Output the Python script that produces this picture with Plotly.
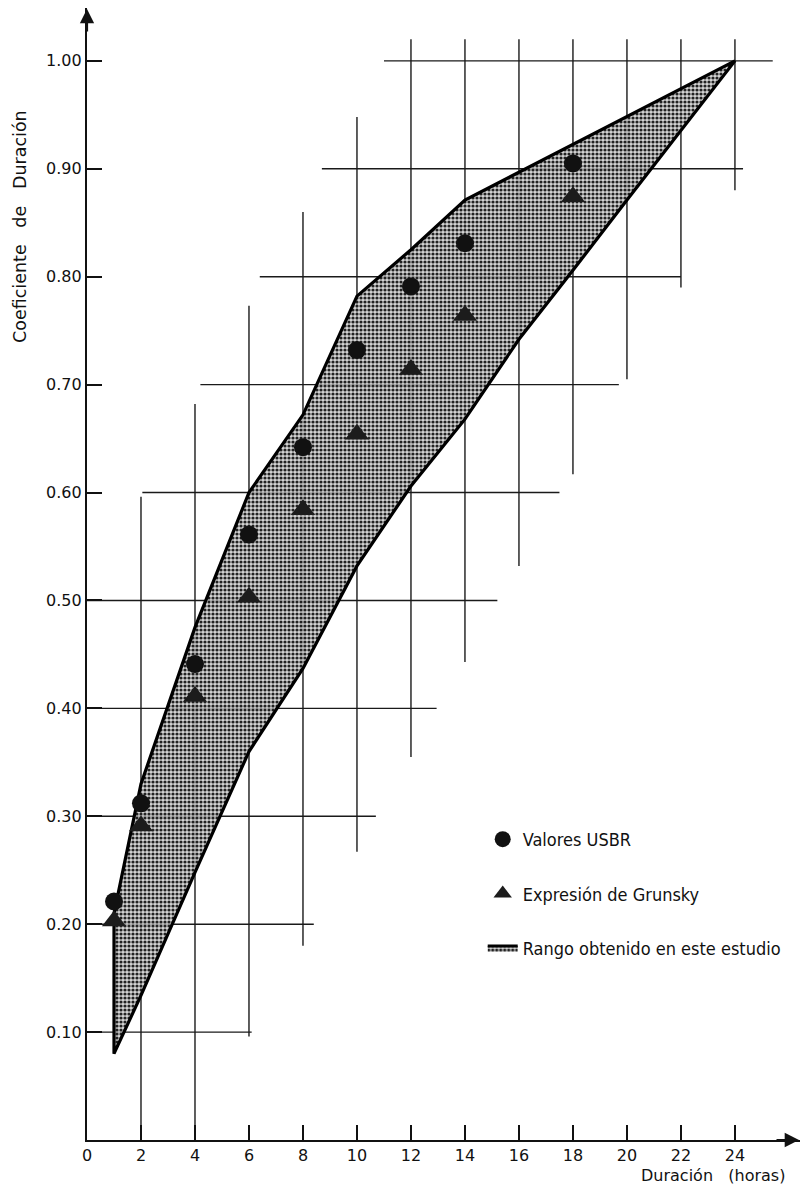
import plotly.graph_objects as go

# ---------------- data ----------------
dur = [1, 2, 4, 6, 8, 10, 12, 14, 18]
usbr = [0.221, 0.312, 0.441, 0.561, 0.642, 0.732, 0.791, 0.831, 0.905]
grunsky = [0.203, 0.291, 0.411, 0.503, 0.584, 0.654, 0.714, 0.764, 0.874]

upper_x = [1, 2, 4, 6, 8, 10, 12, 14, 24]
upper_y = [0.21, 0.33, 0.475, 0.60, 0.672, 0.782, 0.825, 0.871, 1.00]
lower_x = [1, 2, 4, 6, 8, 10, 12, 14, 16, 18, 20, 22, 24]
lower_y = [0.08, 0.134, 0.248, 0.36, 0.437, 0.532, 0.606, 0.668, 0.742, 0.806, 0.871, 0.936, 1.00]

# partial ("staircase") grid lines of the original drawing
h_y = [0.10, 0.20, 0.30, 0.40, 0.50, 0.60, 0.70, 0.80, 0.90, 1.00]
h_x0 = [0, 0, 0, 0, 0, 2.05, 4.2, 6.4, 8.7, 11.0]
h_x1 = [6.1, 8.4, 10.7, 12.95, 15.2, 17.5, 19.7, 22.0, 24.3, 25.4]
v_x = [2, 4, 6, 8, 10, 12, 14, 16, 18, 20, 22, 24]
v_y0 = [0, 0, 0.096, 0.18, 0.267, 0.355, 0.443, 0.532, 0.617, 0.705, 0.79, 0.88]
v_y1 = [0.596, 0.682, 0.773, 0.86, 0.948, 1.02, 1.02, 1.02, 1.02, 1.02, 1.02, 1.02]

x_ticks = [0, 2, 4, 6, 8, 10, 12, 14, 16, 18, 20, 22, 24]
y_ticks = [0.10, 0.20, 0.30, 0.40, 0.50, 0.60, 0.70, 0.80, 0.90, 1.00]

FONT = "DejaVu Sans, sans-serif"
FONT_C = "DejaVu Sans Condensed, DejaVu Sans, sans-serif"
NB = "\u00a0"

fig = go.Figure()

# grid segments
gx, gy = [], []
for y, a, b in zip(h_y, h_x0, h_x1):
    gx += [a, b, None]
    gy += [y, y, None]
for x, a, b in zip(v_x, v_y0, v_y1):
    gx += [x, x, None]
    gy += [a, b, None]
fig.add_trace(go.Scatter(x=gx, y=gy, mode="lines",
                         line=dict(color="#1a1a1a", width=1.4),
                         showlegend=False, hoverinfo="skip"))

# shaded range (closed polygon)
poly_x = upper_x + lower_x[::-1] + upper_x[:1]
poly_y = upper_y + lower_y[::-1] + upper_y[:1]
fig.add_trace(go.Scatter(
    x=poly_x, y=poly_y, mode="lines", fill="toself",
    name="Rango obtenido en este estudio", legendgroup="c", legendrank=3,
    line=dict(color="#000000", width=3.2),
    fillcolor="rgba(150,150,150,0.9)",
    fillpattern=dict(shape=".", size=4, solidity=0.5,
                     fgcolor="#222222", bgcolor="rgba(205,205,205,0.85)",
                     fillmode="replace"),
))
fig.add_trace(go.Scatter(
    x=dur, y=usbr, mode="markers", name="Valores USBR",
    legendgroup="a", legendrank=1,
    marker=dict(symbol="circle", size=18, color="#111111"),
))
fig.add_trace(go.Scatter(
    x=dur, y=grunsky, mode="markers", name="Expresión de Grunsky",
    legendgroup="b", legendrank=2,
    marker=dict(symbol="triangle-up", size=21, color="#1c1c1c"),
))

fig.update_layout(
    width=792, height=1176,
    margin=dict(l=79, r=0, t=0, b=44),
    paper_bgcolor="white", plot_bgcolor="white",
    font=dict(family=FONT, size=16, color="#111111"),
    hovermode=False,
    legend=dict(
        x=0.555, y=0.2818, xanchor="left", yanchor="top",
        bgcolor="rgba(0,0,0,0)", borderwidth=0,
        font=dict(size=18, family=FONT_C, color="#111111"),
        tracegroupgap=28, itemsizing="trace", traceorder="grouped",
    ),
    xaxis=dict(
        range=[0, 26.41], showgrid=False, zeroline=False,
        showline=True, linecolor="#111111", linewidth=2.2,
        ticks="inside", ticklen=15, tickwidth=2, tickcolor="#111111",
        tickvals=x_ticks, ticktext=[str(v) for v in x_ticks],
        tickfont=dict(size=16, family=FONT),
    ),
    yaxis=dict(
        range=[0, 1.049], showgrid=False, zeroline=False,
        showline=True, linecolor="#111111", linewidth=2.2,
        ticks="inside", ticklen=15, tickwidth=2, tickcolor="#111111",
        tickvals=y_ticks, ticktext=[f"{v:.2f}" for v in y_ticks],
        tickfont=dict(size=16, family=FONT),
    ),
    annotations=[
        dict(text=f"Coeficiente{NB*3}de{NB*3}Duración",
             xref="paper", yref="paper", x=-0.094, y=0.8074,
             xanchor="center", yanchor="middle", textangle=-90,
             showarrow=False, font=dict(size=17.5, family=FONT)),
        dict(text=f"Duración{NB*3}(horas)",
             xref="paper", yref="paper", x=0.982, y=-0.0312,
             xanchor="right", yanchor="middle",
             showarrow=False, font=dict(size=16, family=FONT)),
        dict(text="", xref="paper", yref="paper", x=1.0, y=0.0,
             ax=-25, ay=0, showarrow=True, arrowhead=2, arrowsize=1.3,
             arrowwidth=2.2, arrowcolor="#111111"),
        dict(text="", xref="paper", yref="paper", x=0.0, y=1.0,
             ax=0, ay=25, showarrow=True, arrowhead=2, arrowsize=1.3,
             arrowwidth=2.2, arrowcolor="#111111"),
    ],
)

fig.write_html("out.html")
